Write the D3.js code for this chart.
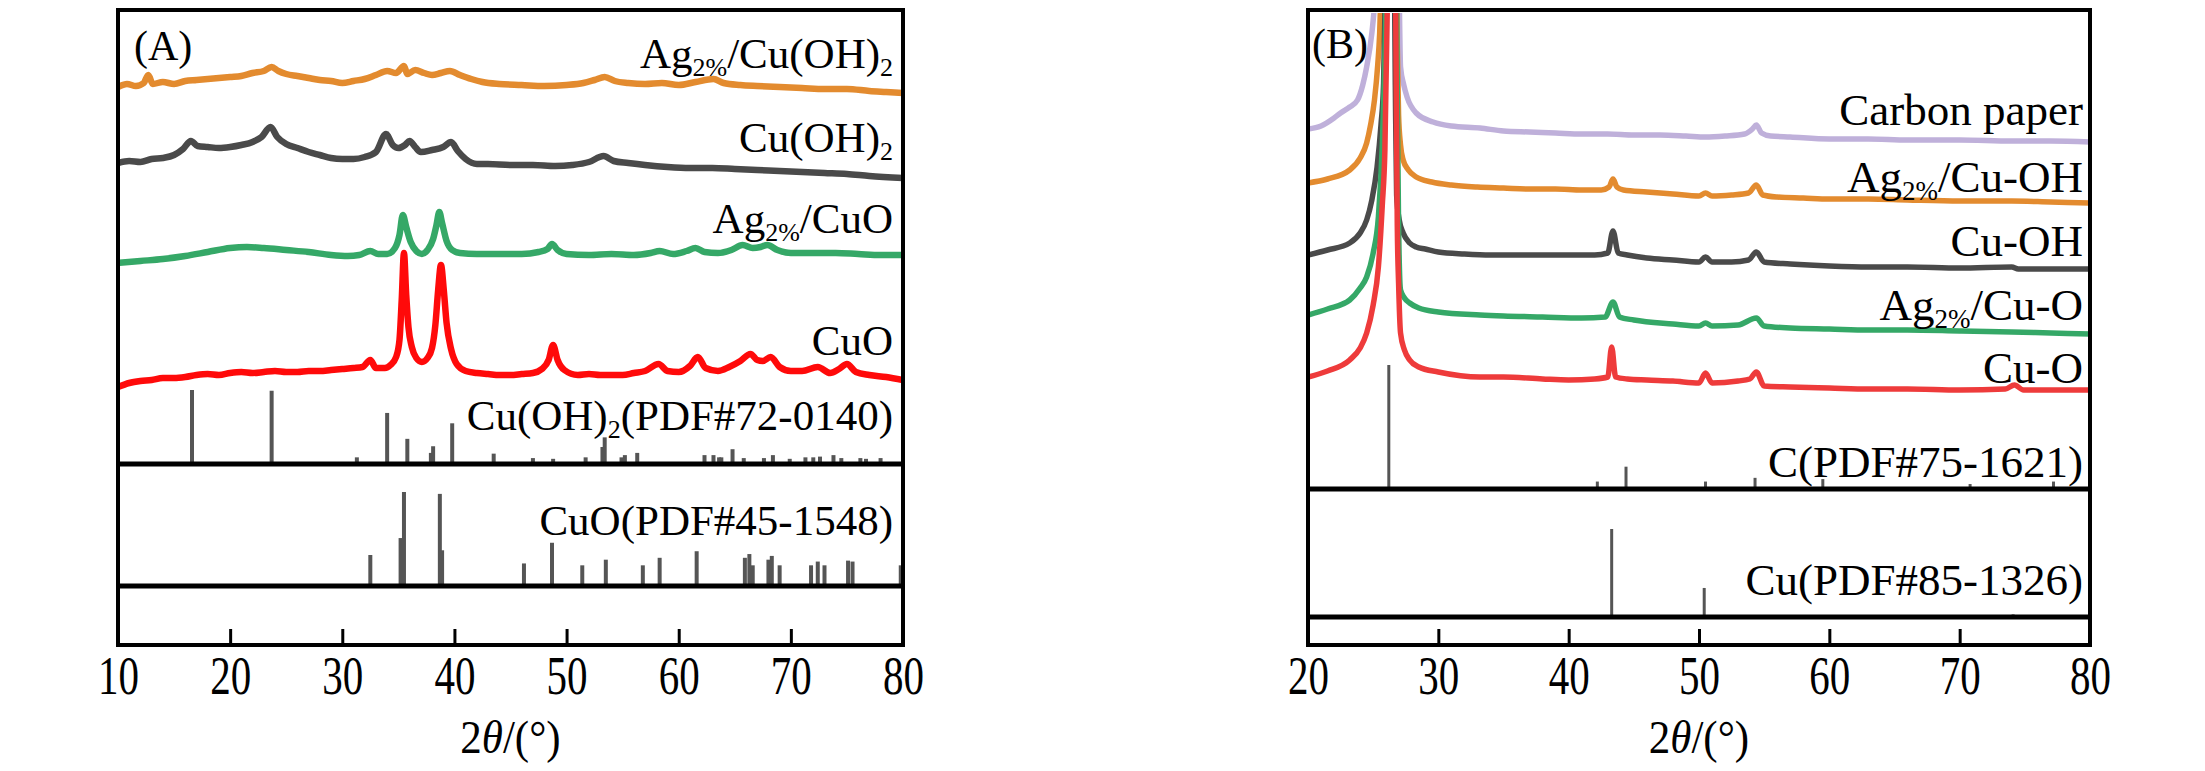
<!DOCTYPE html>
<html lang="en">
<head>
<meta charset="UTF-8">
<title>XRD patterns</title>
<script src="https://d3js.org/d3.v7.min.js"></script>
<style>
  body { margin: 0; background: #fff; }
  text { font-family: "Liberation Serif", "Times New Roman", serif; fill: #000; }
  .frame { fill: none; stroke: #000; stroke-width: 4; }
  .sep { stroke: #000; stroke-width: 5; }
  .stick { stroke: #555; }
  .curve { fill: none; stroke-linejoin: round; stroke-linecap: round; }
  .axis path { display: none; }
  .axis line { stroke: #000; stroke-width: 3; }
</style>
</head>
<body>
<script>
// ---------- data: panel A (2theta, stacked intensity a.u.) ----------
const ticksA = [10, 20, 30, 40, 50, 60, 70, 80];
const ticksB = [20, 30, 40, 50, 60, 70, 80];

const aAgCuOH2 = [[10,558],[10.8,561],[11.6,559],[12.3,562],[12.7,570],[13.1,561],[14,563],[15,561],[16,564],[17,565],[18,566],[19,567],[20,568],[21,569],[22,572],[23,574],[23.7,578],[24.3,574],[25,571],[26,569],[27,567],[28,565],[29,564],[30,562],[31,564],[32,566],[33,570],[34,574],[34.8,572],[35.5,579],[35.8,571],[36.5,575],[37.3,572],[38,570],[38.8,572],[39.6,574],[40.5,570],[41.5,566],[42.5,563],[44,561],[46,560],[48,559],[50,560],[51.5,562],[52.5,565],[53.4,568],[54.3,564],[55.5,562],[57,561],[58.5,562],[60,560],[61.5,563],[63.1,566],[64,562],[65.5,560],[67,559],[69,558],[71,557],[73,556],[75,556],[77,554],[78.5,553],[80,552]];
const aCuOH2 = [[10,482],[11,484],[12,483],[13,486],[14,487],[15,490],[15.8,496],[16.5,504],[17.1,499],[18,498],[19,497],[20,498],[21,500],[22,503],[22.8,508],[23.6,518],[24.2,508],[25,501],[26,497],[27,493],[28,490],[29,487],[30,486],[31,486],[32,488],[33,493],[33.9,511],[34.5,500],[35,497],[35.6,500],[36,504],[36.5,498],[37,493],[38,495],[39,498],[39.7,503],[40.3,494],[41,486],[42,481],[43,481],[45,480],[47,480],[49,479],[50.5,480],[52,483],[53.3,489],[54.2,484],[55.5,482],[57,480],[59,478],[61,477],[63,477],[65,476],[67,475],[69,474],[71,473],[73,472],[75,471],[77,469],[80,467]];
const aAgCuO = [[10,382],[12,384],[14,386],[16,389],[18,393],[20,397],[21.5,398],[23,397],[25,395],[27,393],[29,390],[30.5,389],[31.5,390],[32.5,394],[33.2,391],[34,391],[34.7,397],[35.1,410],[35.4,430],[35.7,418],[36.1,403],[36.6,394],[37.1,391],[37.6,395],[38.1,406],[38.4,420],[38.65,433],[38.9,422],[39.3,404],[39.8,395],[40.5,392],[42,391],[44,391],[46,391],[47.5,393],[48.3,396],[48.7,401],[49.2,395],[50,391],[52,390],[54,391],[56,390],[57.5,392],[58.3,394],[59.5,391],[60.7,394],[61.5,397],[62.3,393],[63.5,392],[64.7,395],[65.7,400],[66.6,397],[67.3,398],[67.9,400],[68.8,395],[70,392],[72,392],[74,392],[76,391],[78,390],[80,390]];
const aCuO = [[10,258],[11,262],[12,264],[13,265],[14,267],[15,267],[16,268],[17,270],[18,271],[19,270],[20,272],[21,273],[22,272],[23,273],[24,274],[25,273],[26,273],[27,274],[28,274],[29,275],[30,276],[31,277],[31.8,278],[32.5,285],[33,277],[33.8,277],[34.3,280],[34.8,288],[35.1,305],[35.3,345],[35.5,392],[35.7,350],[35.9,318],[36.2,298],[36.6,287],[37.1,283],[37.6,287],[38.0,297],[38.3,320],[38.55,355],[38.8,380],[39.05,355],[39.3,322],[39.7,296],[40.2,281],[41,274],[42,272],[43,271],[44,270],[45,270],[46,271],[47,272],[47.8,276],[48.4,285],[48.8,300],[49.2,285],[49.8,275],[51,270],[52,271],[53,270],[54,270],[55,270],[56,272],[57,274],[58.2,281],[59,274],[60,273],[61,279],[61.7,288],[62.4,277],[63.5,274],[64.5,278],[65.5,284],[66.4,291],[67.0,285],[67.5,284],[68.2,288],[69,278],[70,274],[71,274],[72.4,278],[73.5,272],[74.3,276],[75,281],[75.8,273],[77,270],[78.5,268],[80,265]];

// reference cards, panel A (position, relative intensity)
const refCuOH2Pos = [16.6,23.7,31.3,34.0,35.8,37.9,38.1,39.8,43.5,47.0,48.8,51.7,53.2,53.4,54.9,55.2,56.3,62.3,63.1,63.6,63.8,64.8,65.8,67.6,68.4,69.9,71.3,72.0,72.6,73.8,74.5,76.2,76.7,78.0];
const refCuOH2Int = [100,99,9,69,34,15,24,55,14,8,7,9,23,36,9,12,15,12,12,9,9,20,8,8,12,7,9,9,10,12,8,8,7,8];
const refCuOPos = [32.5,35.2,35.5,38.7,38.9,46.2,48.7,51.4,53.5,56.8,58.3,61.6,65.9,66.3,66.6,68.0,68.3,69.0,71.8,72.4,73.0,75.1,75.5,79.8];
const refCuOInt = [33,51,100,98,38,24,46,22,28,22,30,37,30,34,22,28,32,22,22,26,22,27,26,22];

// ---------- data: panel B ----------
const bCarbon = [[20,516],[21,519],[22,527],[22.5,532],[23.2,538],[23.8,545],[24.2,560],[24.5,578],[24.9,612],[25.1,640],[25.5,760],[25.9,900],[26.3,1000],[26.7,900],[26.95,700],[27.1,578],[27.35,560],[27.6,548],[28.3,532],[29.6,523],[31,519],[33.2,517],[35,514],[37,513],[39,512],[41,511],[43,511],[45,510],[47,510],[49,509],[50.5,508],[52,509],[53.5,511],[54.1,516],[54.4,520],[54.8,512],[55.5,509],[57,508],[60,506],[63,506],[66,505],[70,505],[74,504],[77,504],[80,503]];
const bAgCuOH = [[20,462],[21.5,466],[23.2,475],[24,487],[24.5,502],[24.8,520],[25.1,545],[25.35,580],[25.5,612],[25.7,700],[26.0,880],[26.4,1000],[26.7,800],[26.85,600],[26.95,530],[27.1,500],[27.3,485],[27.7,475],[28.3,468],[29.5,463],[31,460],[33,458],[35,457],[37,456],[39,456],[41,455],[42.5,455],[43.1,458],[43.4,466],[43.7,458],[44.2,455],[46,453],[48,451],[50,449],[50.5,452],[51,449],[52.5,450],[53.8,452],[54.4,460],[54.9,450],[56,448],[58,447],[60,446],[63,446],[66,445],[70,444],[74,444],[77,443],[80,442]];
const bCuOH = [[20,390],[21.5,395],[23.2,402],[24,412],[24.5,425],[24.9,445],[25.3,478],[25.6,520],[25.8,562],[26.0,700],[26.2,900],[26.35,1000],[26.55,800],[26.7,560],[26.8,450],[27.0,425],[27.3,412],[27.8,402],[28.3,398],[29,396],[30,393],[32,391],[34,390],[36,390],[38,390],[40,390],[42,390],[43.0,392],[43.4,414],[43.8,392],[44.5,390],[46,387],[48,385],[50,383],[50.5,388],[51,383],[52.5,383],[53.8,385],[54.4,393],[55,383],[57,381],[60,379],[63,378],[66,378],[70,377],[74,378],[74.5,376],[77,376],[80,376]];
const bAgCuO = [[20,330],[21.5,336],[23.2,345],[24,357],[24.5,368],[25.0,392],[25.4,428],[25.7,500],[25.95,620],[26.2,850],[26.45,1000],[26.7,800],[26.85,550],[26.95,420],[27.1,355],[27.4,347],[27.8,342],[28.5,337],[30,333],[33.2,330],[35,329],[38,328],[41,327],[42.8,328],[43.4,343],[43.9,328],[45,325],[48,321],[50,319],[50.5,322],[51,319],[53,320],[54.4,327],[55,319],[57,317],[60,316],[63,315],[66,315],[70,314],[74,313],[77,312],[80,311]];
const bCuO = [[20,268],[21.5,274],[23.2,285],[24,297],[24.5,312],[25.0,340],[25.4,378],[25.7,440],[25.9,495],[26.1,650],[26.3,900],[26.45,1000],[26.6,850],[26.75,600],[26.85,420],[26.95,362],[27.1,312],[27.4,295],[27.8,285],[28.5,278],[30,273],[33.2,268],[35,268],[38,266],[40,265],[42,266],[43.0,268],[43.3,298],[43.6,268],[44.5,266],[46,265],[48,264],[50,262],[50.5,272],[51,262],[53,264],[53.9,266],[54.4,273],[55,259],[57,258],[60,257],[63,256],[66,256],[70,255],[73.5,256],[74.2,260],[74.9,255],[77,255],[80,255]];

const refCPos = [26.2,42.2,44.4,50.5,54.3,59.5,70.8,77.2];
const refCInt = [100,6,18,6,9,8,4,6];
const refCuPos = [43.3,50.4,74.1];
const refCuInt = [100,33,3];

// ---------- layout ----------
const W = 2205, H = 771;
const yTop = 10, yBottom = 645;
const panelA = {x0: 118, x1: 903, domain: [10, 80]};
const panelB = {x0: 1308, x1: 2090, domain: [20, 80]};

const svg = d3.select("body").append("svg")
  .attr("width", W).attr("height", H)
  .attr("viewBox", `0 0 ${W} ${H}`);
svg.append("rect").attr("width", W).attr("height", H).attr("fill", "#fff");

function label(g, x, y, parts, size) {
  // parts: array of [text, isSub]
  const t = g.append("text").attr("x", x).attr("y", y)
    .attr("text-anchor", "end").style("font-size", size + "px");
  let sub = false;
  parts.forEach(([s, isSub]) => {
    const ts = t.append("tspan").text(s);
    if (isSub && !sub) { ts.attr("dy", 8).style("font-size", Math.round(size * 0.6) + "px"); sub = true; }
    else if (isSub) { ts.style("font-size", Math.round(size * 0.6) + "px"); }
    else if (sub) { ts.attr("dy", -8); sub = false; }
  });
  return t;
}

function panel(p, ticks, id) {
  const x = d3.scaleLinear().domain(p.domain).range([p.x0, p.x1]);
  const y = d3.scaleLinear().domain([0, yBottom - yTop]).range([yBottom, yTop]);
  const g = svg.append("g");

  g.append("clipPath").attr("id", "clip" + id)
    .append("rect").attr("x", p.x0).attr("y", yTop + 3)
    .attr("width", p.x1 - p.x0).attr("height", yBottom - yTop - 3);

  const axis = d3.axisBottom(x).tickValues(ticks)
    .tickSizeInner(-16).tickSizeOuter(0);
  const ax = g.append("g").attr("class", "axis")
    .attr("font-family", null)
    .attr("transform", `translate(0,${yBottom})`).call(axis);
  // tick labels: tall, narrow serif digits as in the source figure
  ax.selectAll(".tick text")
    .attr("y", null).attr("dy", null)
    .attr("transform", "translate(0,49) scale(1,1.33)")
    .style("font-size", "41px")
    .style("font-family", '"Liberation Serif", serif');

  const title = g.append("text")
    .attr("transform", `translate(${(p.x0 + p.x1) / 2},753) scale(1,1.1)`)
    .attr("text-anchor", "middle").style("font-size", "43px");
  title.append("tspan").text("2");
  title.append("tspan").text("θ").style("font-style", "italic");
  title.append("tspan").text("/(°)");

  return {x, y, g};
}

function curves(P, series, width, id) {
  const line = d3.line().x(d => P.x(d[0])).y(d => P.y(d[1])).curve(d3.curveMonotoneX);
  const cg = P.g.append("g").attr("clip-path", `url(#clip${id})`);
  series.forEach(s => {
    cg.append("path").datum(s.data).attr("class", "curve")
      .attr("stroke", s.color).attr("stroke-width", width).attr("d", line);
  });
}

function sticks(P, pos, inten, base, height, sw) {
  const s = d3.scaleLinear().domain([0, 100]).range([P.y(base), P.y(base + height)]);
  P.g.append("g").selectAll("line").data(pos.map((d, i) => [d, inten[i]]))
    .join("line").attr("class", "stick")
    .attr("x1", d => P.x(d[0])).attr("x2", d => P.x(d[0]))
    .attr("y1", P.y(base)).attr("y2", d => s(d[1]))
    .attr("stroke-width", sw);
  P.g.append("line").attr("class", "sep")
    .attr("x1", P.x.range()[0]).attr("x2", P.x.range()[1])
    .attr("y1", P.y(base)).attr("y2", P.y(base));
}

// ---------- panel A ----------
const A = panel(panelA, ticksA, "A");
curves(A, [
  {data: aAgCuOH2, color: "#e38b2f"},
  {data: aCuOH2, color: "#4a4a4a"},
  {data: aAgCuO, color: "#35a867"},
  {data: aCuO, color: "#ff0a0a"}
], 6.5, "A");
sticks(A, refCuOH2Pos, refCuOH2Int, 181, 74, 4);
sticks(A, refCuOPos, refCuOInt, 59, 94, 4);
A.g.append("text").attr("x", 134).attr("y", 60).style("font-size", "42px").text("(A)");
label(A.g, 893, 68, [["Ag"], ["2%", 1], ["/Cu(OH)"], ["2", 1]], 43);
label(A.g, 893, 152, [["Cu(OH)"], ["2", 1]], 43);
label(A.g, 893, 233, [["Ag"], ["2%", 1], ["/CuO"]], 43);
label(A.g, 893, 355, [["CuO"]], 43);
label(A.g, 893, 430, [["Cu(OH)"], ["2", 1], ["(PDF#72-0140)"]], 43);
label(A.g, 893, 535, [["CuO(PDF#45-1548)"]], 43);
A.g.append("rect").attr("class", "frame")
  .attr("x", panelA.x0).attr("y", yTop)
  .attr("width", panelA.x1 - panelA.x0).attr("height", yBottom - yTop);

// ---------- panel B ----------
const B = panel(panelB, ticksB, "B");
curves(B, [
  {data: bCarbon, color: "#bfb0da"},
  {data: bAgCuOH, color: "#e38b2f"},
  {data: bCuOH, color: "#4a4a4a"},
  {data: bAgCuO, color: "#35a867"},
  {data: bCuO, color: "#ee3b3b"}
], 5.5, "B");
sticks(B, refCPos, refCInt, 156, 124, 3);
sticks(B, refCuPos, refCuInt, 28, 88, 3);
B.g.append("text").attr("x", 1312).attr("y", 58).style("font-size", "42px").text("(B)");
label(B.g, 2083, 125, [["Carbon paper"]], 45);
label(B.g, 2083, 192, [["Ag"], ["2%", 1], ["/Cu-OH"]], 45);
label(B.g, 2083, 256, [["Cu-OH"]], 45);
label(B.g, 2083, 320, [["Ag"], ["2%", 1], ["/Cu-O"]], 45);
label(B.g, 2083, 383, [["Cu-O"]], 45);
label(B.g, 2083, 477, [["C(PDF#75-1621)"]], 45);
label(B.g, 2083, 595, [["Cu(PDF#85-1326)"]], 45);
B.g.append("rect").attr("class", "frame")
  .attr("x", panelB.x0).attr("y", yTop)
  .attr("width", panelB.x1 - panelB.x0).attr("height", yBottom - yTop);
</script>
</body>
</html>
